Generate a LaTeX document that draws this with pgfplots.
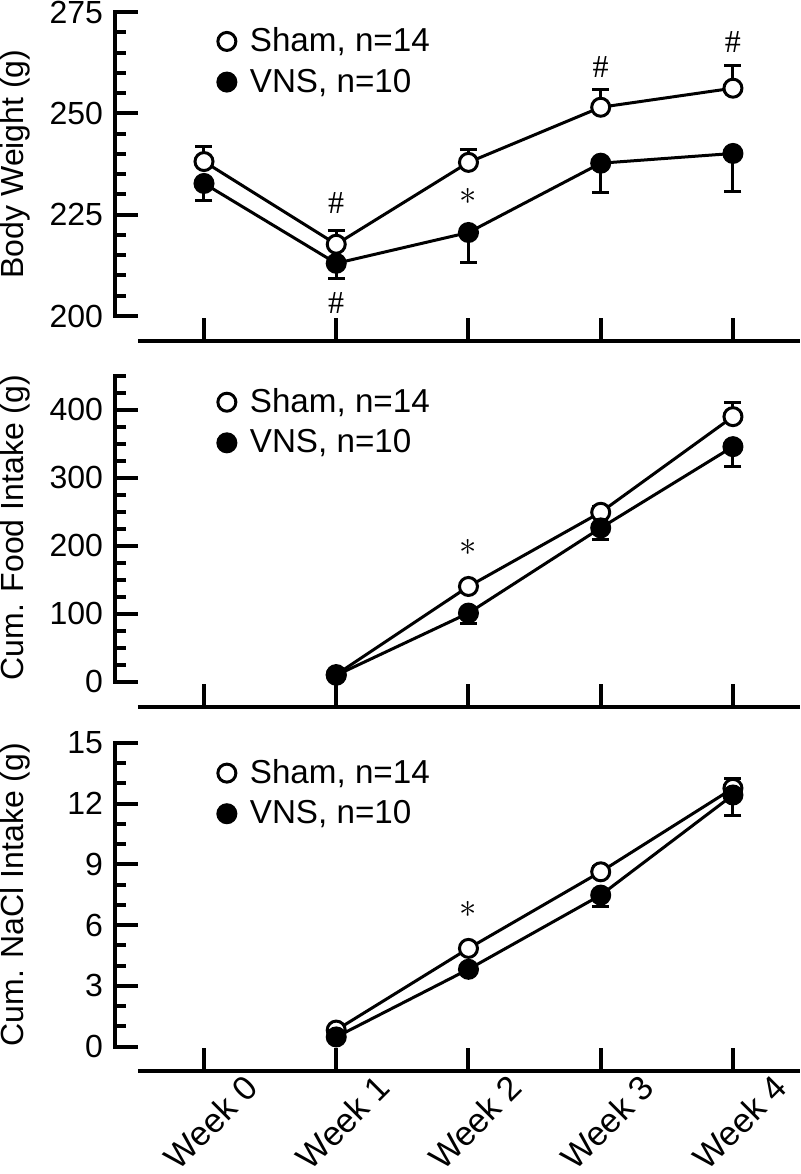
\documentclass[border=0pt]{standalone}
\usepackage{pgfplots}
\pgfplotsset{compat=1.18}
\usepackage{pgfplotstable}
\usepackage{fontspec}
\setmainfont{Liberation Sans}
\newfontfamily\notefont{Liberation Serif}
\newcommand{\lfont}{\fontsize{16}{19}\selectfont}
\newcommand{\gfont}{\fontsize{16.6}{19}\selectfont}
\newcommand{\hfont}{\notefont\fontsize{16}{19}\selectfont}
\newcommand{\afont}{\fontsize{18}{20}\selectfont}

% Panel A: body weight
\pgfplotstableread{
x y e
0 238.1 3.7
1 217.7 3.5
2 237.9 3.1
3 251.5 4.3
4 256.2 5.6
}\bwsham
\pgfplotstableread{
x y e
0 232.7 4.1
1 213.0 3.7
2 220.6 7.4
3 237.7 7.3
4 240.1 9.4
}\bwvns
% Panel B: cumulative food intake
\pgfplotstableread{
x y e
1 10.5 2
2 140.2 5
3 249.4 8
4 390.2 20.7
}\fdsham
\pgfplotstableread{
x y e
1 9.5 3
2 101.0 15
3 226.4 17
4 346.0 29.5
}\fdvns
% Panel C: cumulative NaCl intake
\pgfplotstableread{
x y e
1 0.82 0.05
2 4.85 0.15
3 8.63 0.25
4 12.75 0.5
}\nasham
\pgfplotstableread{
x y e
1 0.48 0.1
2 3.82 0.2
3 7.48 0.58
4 12.42 1.0
}\navns

\pgfplotsset{
  panel/.style={
    scale only axis, width=342.5pt,
    xmin=-0.673, xmax=4.507,
    axis line style={draw=none},
    xtick={0,1,2,3,4}, xtick pos=bottom, ytick pos=left,
    tick align=inside,
    major tick length=11.5pt, minor tick length=5.5pt,
    tick style={line width=2pt, black},
    /pgf/number format/assume math mode=true,
    tick label style={font=\lfont},
    yticklabel style={xshift=-2.5pt},
    label style={font=\lfont},
    clip=false,
    legend style={draw=none, fill=none, font=\gfont, inner sep=0pt,
      row sep=3pt, cells={anchor=west},
      /tikz/every odd column/.append style={column sep=5pt}},
    legend image code/.code={\draw[#1] plot coordinates {(0pt,0pt)};},
  },
  sham/.style={black, line width=1.5pt, mark=*, mark size=4.5pt,
    mark options={fill=white, draw=black, line width=1.5pt},
    error bars/y dir=plus, error bars/y explicit,
    error bars/error bar style={line width=1.5pt, black},
    error bars/error mark options={rotate=90, mark size=4.25pt, line width=1.5pt, black}},
  vns/.style={black, line width=1.5pt, mark=*, mark size=4.5pt,
    mark options={fill=black, draw=black, line width=1.5pt},
    error bars/y dir=minus, error bars/y explicit,
    error bars/error bar style={line width=1.5pt, black},
    error bars/error mark options={rotate=90, mark size=4.25pt, line width=1.5pt, black}},
}

\begin{document}
\begin{tikzpicture}
\path[use as bounding box] (0,0) rectangle (400pt,-587pt);

% ---------------- Panel 1 ----------------
\begin{axis}[panel, at={(57.5pt,-170.5pt)}, anchor=south west,
  height=164.5pt, ymin=193.83, ymax=275,
  ytick={200,225,250,275}, minor ytick={200,205,...,275},
  xticklabels={},
  ylabel={Body Weight (g)},
  ylabel style={at={(rel axis cs:-0.1453,0.538)}, anchor=center},
  legend style={at={(rel axis cs:0.1496,0.965)}, anchor=north west}]
\addlegendimage{only marks, mark=*, mark size=4.5pt, mark options={fill=white, draw=black, line width=1.5pt}}
\addlegendentry{Sham, n=14}
\addlegendimage{only marks, mark=*, mark size=4.5pt, mark options={fill=black, draw=black, line width=1.5pt}}
\addlegendentry{VNS, n=10}
\draw[line width=2pt, line cap=rect] (axis cs:-0.673,200) -- (axis cs:-0.673,275);
\draw[line width=2pt] (axis cs:-0.5,193.83) -- (axis cs:4.507,193.83);
\addplot[sham, forget plot] table[x=x, y=y, y error=e] {\bwsham};
\addplot[vns, forget plot] table[x=x, y=y, y error=e] {\bwvns};
\node[font=\hfont] at (axis cs:1,227.9) {\#};
\node[font=\hfont] at (axis cs:1,203.2) {\#};
\node[font=\afont] at (axis cs:2,229.4) {$\ast$};
\node[font=\hfont] at (axis cs:3,261.4) {\#};
\node[font=\hfont] at (axis cs:4,267.6) {\#};
\end{axis}

% ---------------- Panel 2 ----------------
\begin{axis}[panel, at={(57.5pt,-353.35pt)}, anchor=south west,
  height=165.35pt, ymin=-36.8, ymax=450,
  ytick={0,100,200,300,400}, minor ytick={0,25,...,450},
  xticklabels={},
  ylabel={Cum. Food Intake (g)},
  ylabel style={at={(rel axis cs:-0.1453,0.541)}, anchor=center},
  legend style={at={(rel axis cs:0.1496,0.975)}, anchor=north west}]
\addlegendimage{only marks, mark=*, mark size=4.5pt, mark options={fill=white, draw=black, line width=1.5pt}}
\addlegendentry{Sham, n=14}
\addlegendimage{only marks, mark=*, mark size=4.5pt, mark options={fill=black, draw=black, line width=1.5pt}}
\addlegendentry{VNS, n=10}
\draw[line width=2pt, line cap=rect] (axis cs:-0.673,0) -- (axis cs:-0.673,450);
\draw[line width=2pt] (axis cs:-0.5,-36.8) -- (axis cs:4.507,-36.8);
\addplot[sham, forget plot] table[x=x, y=y, y error=e] {\fdsham};
\addplot[vns, forget plot] table[x=x, y=y, y error=e] {\fdvns};
\node[font=\afont] at (axis cs:2,196.9) {$\ast$};
\end{axis}

% ---------------- Panel 3 ----------------
\begin{axis}[panel, at={(57.5pt,-535.5pt)}, anchor=south west,
  height=164.15pt, ymin=-1.2, ymax=15,
  ytick={0,3,6,9,12,15}, minor ytick={0,1,...,15},
  xticklabels={Week 0,Week 1,Week 2,Week 3,Week 4},
  xticklabel style={font=\fontsize{17}{20}\selectfont, xshift=26pt, yshift=-3pt, rotate=45, anchor=east},
  ylabel={Cum. NaCl Intake (g)},
  ylabel style={at={(rel axis cs:-0.1453,0.537)}, anchor=center},
  legend style={at={(rel axis cs:0.1496,0.962)}, anchor=north west}]
\addlegendimage{only marks, mark=*, mark size=4.5pt, mark options={fill=white, draw=black, line width=1.5pt}}
\addlegendentry{Sham, n=14}
\addlegendimage{only marks, mark=*, mark size=4.5pt, mark options={fill=black, draw=black, line width=1.5pt}}
\addlegendentry{VNS, n=10}
\draw[line width=2pt, line cap=rect] (axis cs:-0.673,0) -- (axis cs:-0.673,15);
\draw[line width=2pt] (axis cs:-0.5,-1.2) -- (axis cs:4.507,-1.2);
\addplot[sham, forget plot] table[x=x, y=y, y error=e] {\nasham};
\addplot[vns, forget plot] table[x=x, y=y, y error=e] {\navns};
\node[font=\afont] at (axis cs:2,6.75) {$\ast$};
\end{axis}
\end{tikzpicture}
\end{document}
